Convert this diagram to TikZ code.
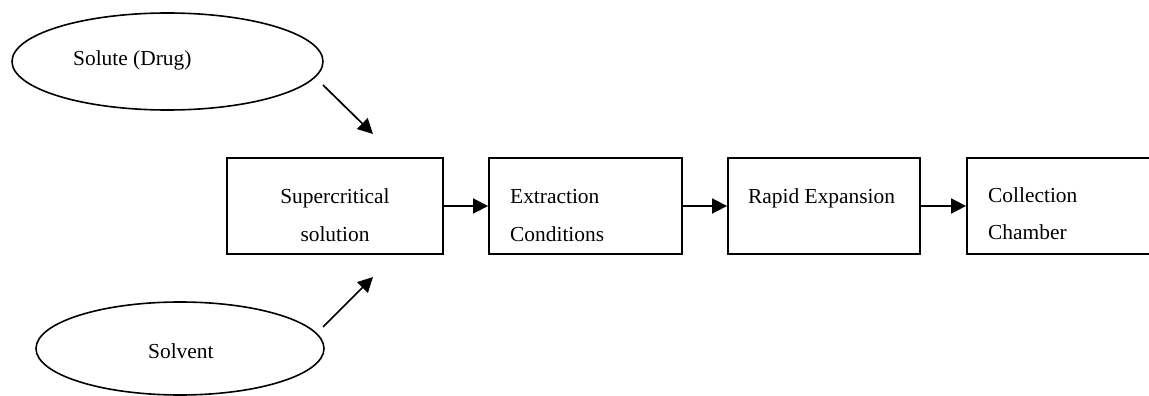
\documentclass[tikz,border=0pt]{standalone}
\usepackage{fontspec}
\setmainfont{Liberation Serif}
\usetikzlibrary{shapes.geometric,arrows.meta}
\tikzset{
  ell/.style={draw, ellipse, line width=1.6pt, inner sep=0pt},
  stepbox/.style={draw, rectangle, line width=1.8pt, inner sep=0pt, minimum height=96pt},
  lbl/.style={inner sep=0pt, font=\fontsize{21.4}{25}\selectfont},
  arr/.style={line width=1.7pt, -{Triangle[length=15pt,width=15pt]}}
}
\begin{document}
\begin{tikzpicture}[x=1pt,y=-1pt]
\useasboundingbox (0,0) rectangle (1149,396);
\clip (0,0) rectangle (1149,396);
% ellipses
\node[ell, minimum width=311pt, minimum height=97pt] (solute) at (167.5,61.5) {};
\node[ell, minimum width=288pt, minimum height=93pt] (solvent) at (180,348.5) {};
\node[lbl, anchor=base west] (tsolute) at (73,66) {Solute (Drug)};
\node[lbl, anchor=base west] (tsolvent) at (148,358) {Solvent};
% boxes
\node[stepbox, minimum width=216pt] (b1) at (335,206) {};
\node[stepbox, minimum width=193pt] (b2) at (585.5,206) {};
\node[stepbox, minimum width=192pt] (b3) at (824,206) {};
\node[stepbox, minimum width=210pt] (b4) at (1072,206) {};
% box texts
\node[lbl, anchor=base] (t1a) at (335,203) {Supercritical};
\node[lbl, anchor=base] (t1b) at (335,241) {solution};
\node[lbl, anchor=base west] (t2a) at (510,203) {Extraction};
\node[lbl, anchor=base west] (t2b) at (510,241) {Conditions};
\node[lbl, anchor=base west] (t3a) at (748,203) {Rapid Expansion};
\node[lbl, anchor=base west] (t4a) at (988,202) {Collection};
\node[lbl, anchor=base west] (t4b) at (988,239) {Chamber};
% diagonal arrows
\coordinate (a1s) at (323,85);
\coordinate (a1e) at (373,134);
\coordinate (a2s) at (323,327);
\coordinate (a2e) at (373,277);
\draw[arr] (a1s) -- (a1e);
\draw[arr] (a2s) -- (a2e);
% horizontal arrows
\draw[arr] (b1.east) -- (b2.west);
\draw[arr] (b2.east) -- (b3.west);
\draw[arr] (b3.east) -- (b4.west);
\end{tikzpicture}
\end{document}
